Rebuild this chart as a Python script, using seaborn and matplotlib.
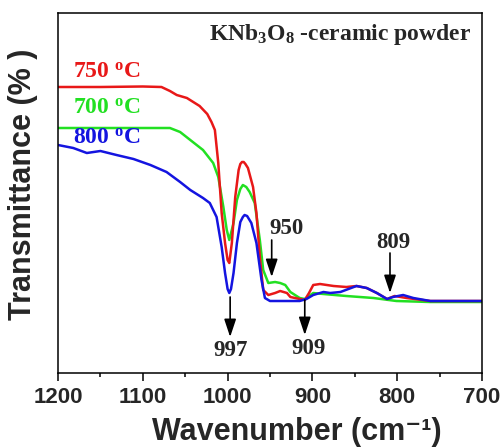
import numpy as np
import pandas as pd
import matplotlib
matplotlib.use("Agg")
import matplotlib.pyplot as plt
import seaborn as sns

# ---- data (arbitrary transmittance units) ----
wn_750 = [1200, 1150, 1100, 1078, 1068, 1060, 1048, 1033, 1024, 1019, 1015, 1011, 1007, 1003,
          1000, 998, 995, 991, 987, 985, 983, 981, 979, 976, 970, 966, 962, 958, 952, 944, 938, 930,
          926, 915, 909, 904, 899, 891, 875, 860, 848, 836, 824, 812, 803, 789, 761, 700]
t_750 = [286, 286, 286.5, 286, 282, 278, 275, 267, 259, 251, 243, 210, 160, 130,
         113, 110, 130, 176, 203, 209, 211, 211, 209, 205, 186, 160, 116, 83, 78, 80, 82, 80,
         76, 74, 73, 80, 88, 89, 87, 86, 87, 85, 80, 74, 77, 75, 72, 72]

wn_700 = [1200, 1068, 1056, 1044, 1029, 1017, 1011, 1005, 1001, 998, 993, 989, 985, 982,
          978, 974, 968, 962, 958, 952, 944, 938, 932, 926, 915, 909, 899, 887, 860, 828,
          801, 761, 700]
t_700 = [245, 245, 241, 233, 223, 210, 196, 166, 143, 133, 150, 173, 184, 188,
         186, 181, 170, 133, 103, 90, 91, 90, 88, 81, 75, 74, 80, 79, 77, 75,
         72, 71, 71]

wn_800 = [1200, 1182, 1166, 1150, 1131, 1111, 1091, 1072, 1056, 1044, 1029, 1021, 1013, 1007,
          1003, 1000, 998, 996, 993, 989, 985, 982, 980, 977, 972, 966, 960, 956, 950, 915, 907,
          899, 887, 879, 867, 848, 836, 824, 812, 805, 793, 781, 761, 700]
t_800 = [228, 225, 220, 222, 218, 214, 208, 201, 191, 183, 175, 170, 156, 126,
         100, 84, 80, 84, 100, 130, 151, 156, 158, 157, 150, 130, 93, 75, 72, 72, 74,
         78, 81, 80, 81, 87, 85, 80, 74, 76, 78, 75, 72, 72]

series_names = ["700 \u00b0C", "750 \u00b0C", "800 \u00b0C"]
series_colors = ["#22e022", "#e81818", "#1414e0"]
x_ticks = [1200, 1100, 1000, 900, 800, 700]
peak_labels = ["997", "950", "909", "809"]

df = pd.concat([
    pd.DataFrame({"wavenumber": wn_700, "T": t_700, "sample": series_names[0]}),
    pd.DataFrame({"wavenumber": wn_750, "T": t_750, "sample": series_names[1]}),
    pd.DataFrame({"wavenumber": wn_800, "T": t_800, "sample": series_names[2]}),
], ignore_index=True)

sns.set_style("white")
plt.rcParams["font.family"] = ["Liberation Sans", "DejaVu Sans"]
plt.rcParams["mathtext.fontset"] = "custom"
plt.rcParams["mathtext.rm"] = "Liberation Serif:bold"
plt.rcParams["mathtext.bf"] = "Liberation Serif:bold"
plt.rcParams["mathtext.it"] = "Liberation Serif:bold"
plt.rcParams["mathtext.sf"] = "Liberation Sans:bold"

fig = plt.figure(figsize=(5.04, 4.48), dpi=100)
ax = fig.add_axes([58 / 504, 1 - 373 / 448, 424 / 504, 360 / 448])

sns.lineplot(data=df, x="wavenumber", y="T", hue="sample", hue_order=series_names,
             palette=dict(zip(series_names, series_colors)), estimator=None, sort=False,
             legend=False, linewidth=1.8, ax=ax)

ax.set_xlim(1200, 700)
ax.set_ylim(0, 360)
ax.set_xticks(x_ticks)
ax.set_xticks([1150, 1050, 950, 850, 750], minor=True)
ax.set_xticklabels([str(v) for v in x_ticks], fontsize=16, fontweight="bold",
                   family="Liberation Sans")
ax.set_yticks([])
ax.tick_params(axis="x", which="major", direction="out", length=6, width=1.1, pad=4,
               bottom=True, color="black")
ax.tick_params(axis="x", which="minor", direction="out", length=3, width=1.1,
               bottom=True, color="black")
for s in ax.spines.values():
    s.set_color("black")
    s.set_linewidth(1.1)

ax.set_xlabel("Wavenumber (cm\u207b\u00b9)", fontsize=22, fontweight="bold",
              family=["Liberation Sans", "DejaVu Sans"], va="baseline")
ax.xaxis.set_label_coords(0.564, -0.186)
ax.set_ylabel("Transmittance (% )", fontsize=22, fontweight="bold",
              family="Liberation Sans", va="center")
ax.yaxis.set_label_coords(-0.0825, 0.524)

serif = dict(family="Liberation Serif", fontweight="bold")

# title
ax.text(0.975, 0.94, r"KNb$_{3}$O$_{8}$ -ceramic powder", transform=ax.transAxes,
        ha="right", va="center", fontsize=17, **serif)

# series labels
label_y = [265, 301, 235]
for name, col, yy in zip(series_names, series_colors, label_y):
    ax.text(1182, yy, r"%s $^{\mathrm{o}}$C" % name.split(" ")[0], color=col,
            ha="left", va="center", fontsize=17, **serif)

# peak arrows and labels
arrow_x = [997, 948, 909, 808.5]
arrow_tail = [76, 133, 73, 120]
arrow_head = [36, 96, 38, 80]
text_x = [996, 931, 905, 805]
text_y = [23, 145, 25, 130]
for lab, ax_x, yt, yh, tx, ty in zip(peak_labels, arrow_x, arrow_tail, arrow_head, text_x, text_y):
    ax.annotate("", xy=(ax_x, yh), xytext=(ax_x, yt),
                arrowprops=dict(arrowstyle="-|>,head_length=0.9,head_width=0.3",
                                color="black", lw=1.2, shrinkA=0, shrinkB=0,
                                mutation_scale=12))
    ax.text(tx, ty, lab, ha="center", va="center", fontsize=16.5, **serif)

fig.savefig("out.png", dpi=100)
